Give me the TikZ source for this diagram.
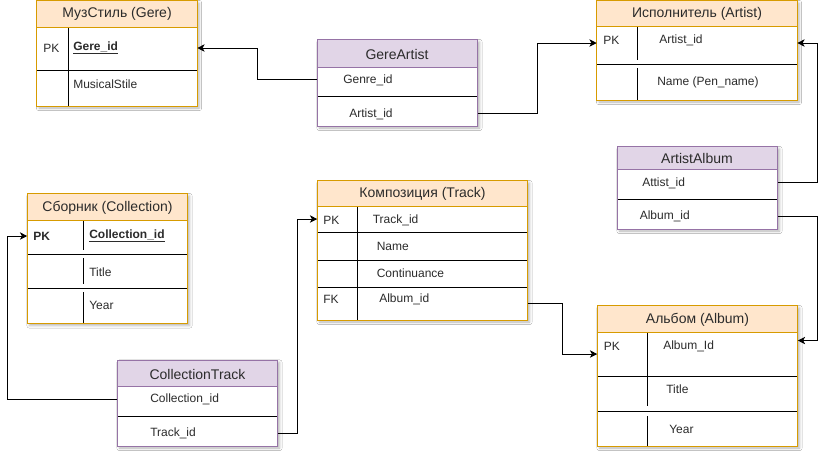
\documentclass[tikz,border=0pt]{standalone}
\usepackage{fontspec}
\setmainfont{Liberation Sans}
\usetikzlibrary{arrows.meta,fit,shadows.blur}
\definecolor{ofill}{HTML}{FFE6CC}
\definecolor{oline}{HTML}{D79B00}
\definecolor{pfill}{HTML}{E1D5E7}
\definecolor{pline}{HTML}{9673A6}
\definecolor{txt}{HTML}{2B2B2B}
\begin{document}
\begin{tikzpicture}[x=0.75pt,y=-0.75pt,
 ebox/.style={fill=white, inner sep=0pt, blur shadow={shadow xshift=1.5pt, shadow yshift=-1.5pt, shadow blur radius=2pt, shadow opacity=30}},
 hdr/.style={font=\fontsize{10.5}{12}\selectfont, text=txt, inner sep=0pt},
 fld/.style={font=\fontsize{9}{11}\selectfont, text=txt, inner sep=0pt, anchor=west},
 bfld/.style={fld, font=\fontsize{9}{11}\selectfont\bfseries},
 sepline/.style={line width=0.75pt, black},
 oborder/.style={draw=oline, line width=0.75pt},
 pborder/.style={draw=pline, line width=0.75pt},
 conn/.style={line width=0.75pt, black, -{Stealth[length=5.5pt,width=5.5pt,inset=1.5pt]}},
]
\fill[white] (0,0) rectangle (837,461);
\useasboundingbox (0,0) rectangle (837,461);

% ---------- Gere ----------
\node[ebox, fit={(37,1) (197,106)}] (gere) {};
\fill[ofill] (37,1) rectangle (197,27);
\draw[sepline] (37,70) -- (197,70);
\draw[sepline] (68,27) -- (68,106);
\draw[oborder] (37,27) -- (197,27);
\draw[oborder] (gere.north west) rectangle (gere.south east);
\node[hdr] (gere-h) at (117,14) {МузСтиль (Gere)};
\node[fld] (gere-pk) at (43,48) {PK};
\node[bfld] (gere-id) at (73,48) {\underline{Gere\_id}};
\node[fld] (gere-ms) at (73,84) {MusicalStile};

% ---------- GereArtist ----------
\node[ebox, fit={(317.5,40) (477.5,126)}] (ga) {};
\fill[pfill] (317.5,40) rectangle (477.5,67);
\draw[sepline] (317.5,96.5) -- (477.5,96.5);
\draw[pborder] (317.5,67) -- (477.5,67);
\draw[pborder] (ga.north west) rectangle (ga.south east);
\node[hdr] (ga-h) at (397,54) {GereArtist};
\node[fld] (ga-gid) at (343,80) {Genre\_id};
\node[fld] (ga-aid) at (349,114) {Artist\_id};
\coordinate (ga-r1) at (317.5,79);
\coordinate (ga-r2) at (477.5,113);

% ---------- Artist ----------
\node[ebox, fit={(597,1) (797,100)}] (art) {};
\fill[ofill] (597,1) rectangle (797,26);
\draw[sepline] (597,64) -- (797,64);
\draw[sepline] (637.5,26) -- (637.5,60);
\draw[sepline] (637.5,68) -- (637.5,100);
\draw[oborder] (597,26) -- (797,26);
\draw[oborder] (art.north west) rectangle (art.south east);
\node[hdr] (art-h) at (697,14) {Исполнитель (Artist)};
\node[fld] (art-pk) at (603,40) {PK};
\node[fld] (art-id) at (659,40) {Artist\_id};
\node[fld] (art-nm) at (657,82) {Name (Pen\_name)};
\coordinate (art-r1) at (697,43);

% ---------- ArtistAlbum ----------
\node[ebox, fit={(617.5,147) (777.5,229)}] (aa) {};
\fill[pfill] (617.5,147) rectangle (777.5,169);
\draw[sepline] (617.5,199) -- (777.5,199);
\draw[pborder] (617.5,169) -- (777.5,169);
\draw[pborder] (aa.north west) rectangle (aa.south east);
\node[hdr] (aa-h) at (697,158) {ArtistAlbum};
\node[fld] (aa-aid) at (642,183) {Attist\_id};
\node[fld] (aa-alid) at (639.5,216.5) {Album\_id};
\coordinate (aa-r1) at (697,182);
\coordinate (aa-r2) at (697,216);

% ---------- Collection ----------
\node[ebox, fit={(27.5,194) (187.5,323.5)}] (col) {};
\fill[ofill] (27.5,194) rectangle (187.5,220);
\draw[sepline] (27.5,254.5) -- (187.5,254.5);
\draw[sepline] (27.5,288.5) -- (187.5,288.5);
\draw[sepline] (83.5,220) -- (83.5,250);
\draw[sepline] (83.5,258) -- (83.5,284);
\draw[sepline] (83.5,292) -- (83.5,323.5);
\draw[oborder] (27.5,220) -- (187.5,220);
\draw[oborder] (col.north west) rectangle (col.south east);
\node[hdr] (col-h) at (107.5,208) {Сборник (Collection)};
\node[bfld] (col-pk) at (33,236) {PK};
\node[bfld] (col-id) at (89,236) {\underline{Collection\_id}};
\node[fld] (col-t) at (89,272) {Title};
\node[fld] (col-y) at (89,305) {Year};
\coordinate (col-r1) at (107,236);

% ---------- CollectionTrack ----------
\node[ebox, fit={(117.5,360.5) (277.5,446)}] (ct) {};
\fill[pfill] (117.5,360.5) rectangle (277.5,386);
\draw[sepline] (117.5,416) -- (277.5,416);
\draw[pborder] (117.5,386) -- (277.5,386);
\draw[pborder] (ct.north west) rectangle (ct.south east);
\node[hdr] (ct-h) at (197.5,374) {CollectionTrack};
\node[fld] (ct-cid) at (150,399) {Collection\_id};
\node[fld] (ct-tid) at (150,433) {Track\_id};
\coordinate (ct-r1) at (197,399);
\coordinate (ct-r2) at (197,433);

% ---------- Track ----------
\node[ebox, fit={(317.5,181) (527.5,320)}] (trk) {};
\fill[ofill] (317.5,181) rectangle (527.5,206);
\draw[sepline] (317.5,232.5) -- (527.5,232.5);
\draw[sepline] (317.5,260) -- (527.5,260);
\draw[sepline] (317.5,287) -- (527.5,287);
\draw[sepline] (357.5,206) -- (357.5,320);
\draw[oborder] (317.5,206) -- (527.5,206);
\draw[oborder] (trk.north west) rectangle (trk.south east);
\node[hdr] (trk-h) at (422.5,194) {Композиция (Track)};
\node[fld] (trk-pk) at (323,220) {PK};
\node[fld] (trk-id) at (372.5,220) {Track\_id};
\node[fld] (trk-nm) at (376.5,246) {Name};
\node[fld] (trk-cn) at (376.5,273) {Continuance};
\node[fld] (trk-fk) at (323,299.5) {FK};
\node[fld] (trk-al) at (379,299.5) {Album\_id};
\coordinate (trk-r1) at (422,219);
\coordinate (trk-r4) at (422,303.5);

% ---------- Album ----------
\node[ebox, fit={(597.5,306) (797.5,446)}] (alb) {};
\fill[ofill] (597.5,306) rectangle (797.5,332);
\draw[sepline] (597.5,376.5) -- (797.5,376.5);
\draw[sepline] (597.5,411) -- (797.5,411);
\draw[sepline] (647.5,332) -- (647.5,406);
\draw[sepline] (647.5,416) -- (647.5,446);
\draw[oborder] (597.5,332) -- (797.5,332);
\draw[oborder] (alb.north west) rectangle (alb.south east);
\node[hdr] (alb-h) at (697.5,320) {Альбом (Album)};
\node[fld] (alb-pk) at (603.5,346) {PK};
\node[fld] (alb-id) at (663,346) {Album\_Id};
\node[fld] (alb-t) at (666,389.5) {Title};
\node[fld] (alb-y) at (669,429) {Year};
\coordinate (alb-r1) at (697,340.5);
\coordinate (alb-r1b) at (697,354);

% ---------- connectors ----------
\draw[conn] (ga.west |- ga-r1) -- ++(-59.8,0) |- (gere.east |- gere-id);
\draw[conn] (ga.east |- ga-r2) -- ++(60.2,0) |- (art.west |- art-r1);
\draw[conn] (aa.east |- aa-r1) -- ++(39.8,0) |- (art.east |- art-r1);
\draw[conn] (aa.east |- aa-r2) -- ++(39.8,0) |- (alb.east |- alb-r1);
\draw[conn] (trk.east |- trk-r4) -- ++(34.8,0) |- (alb.west |- alb-r1b);
\draw[conn] (ct.east |- ct-r2) -- ++(19.8,0) |- (trk.west |- trk-r1);
\draw[conn] (ct.west |- ct-r1) -- ++(-110.2,0) |- (col.west |- col-r1);
\end{tikzpicture}
\end{document}
